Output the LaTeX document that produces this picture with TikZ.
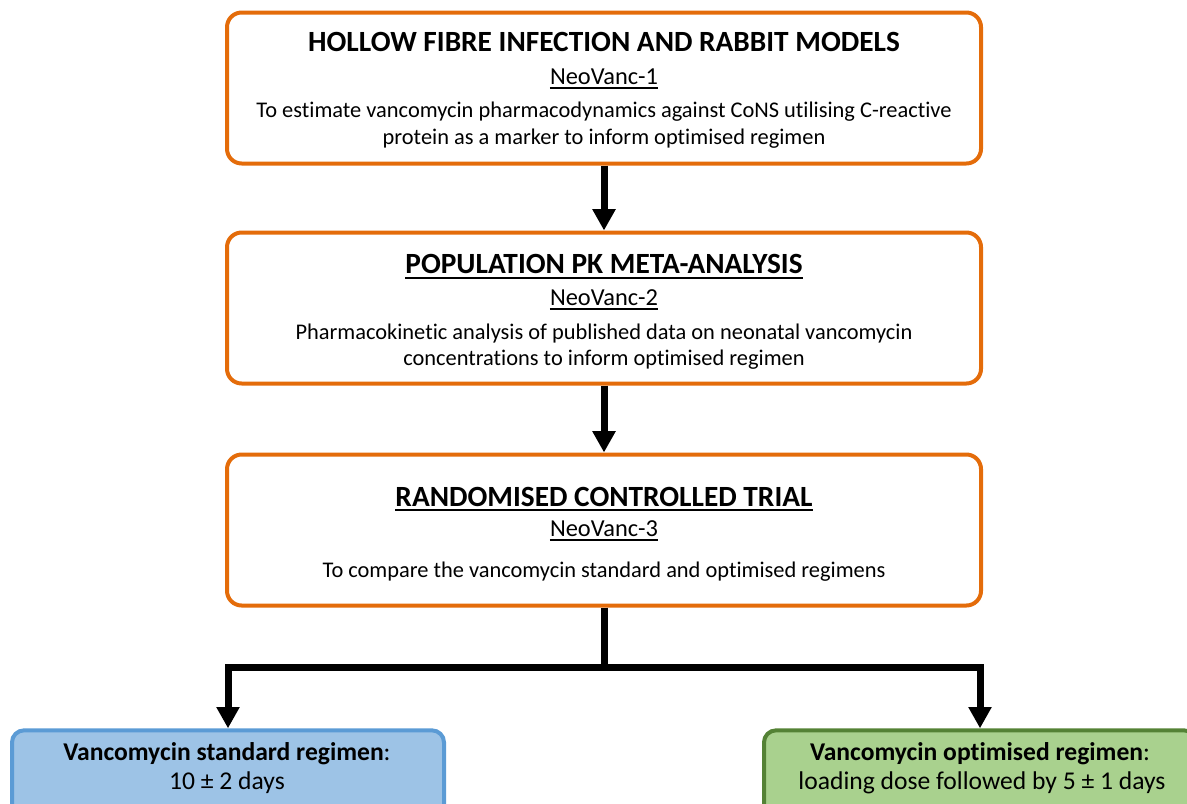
\documentclass[tikz,border=0pt]{standalone}
\usepackage{fontspec}
\setmainfont{Carlito}[Ligatures=NoCommon]
\usetikzlibrary{arrows.meta}
\definecolor{orng}{HTML}{E46C0A}
\definecolor{bluefill}{HTML}{9DC3E6}
\definecolor{blueline}{HTML}{5B9BD5}
\definecolor{greenfill}{HTML}{A9D18E}
\definecolor{greenline}{HTML}{548235}
\tikzset{
  stage/.style={draw=orng, line width=3pt, rounded corners=11pt, fill=white,
    minimum width=565.5pt, minimum height=113.25pt, inner sep=0pt},
  regbox/.style={line width=3pt, rounded corners=9pt,
    minimum width=324pt, minimum height=82pt, inner sep=0pt},
  ttl/.style={font=\fontsize{22}{26}\selectfont\bfseries, inner sep=0pt, anchor=base},
  code/.style={font=\fontsize{18.3}{22}\selectfont, inner sep=0pt, anchor=base},
  desc/.style={font=\fontsize{16.8}{20}\selectfont, inner sep=0pt, anchor=base},
  regtxt/.style={font=\fontsize{19.2}{22}\selectfont, inner sep=0pt, anchor=base},
  arr/.style={line width=5.25pt, -{Triangle[length=16pt,width=16.5pt]}},
  uline/.style={line width=1.5pt},
  ulinethin/.style={line width=1.1pt}
}
\begin{document}
\begin{tikzpicture}[x=0.75pt,y=-0.75pt]
\useasboundingbox (0,0) rectangle (1187,803);
\clip (0,0) rectangle (1187,803);

% stage boxes
\node[stage] (b1) at (604,88) {};
\node[stage] (b2) at (604,308) {};
\node[stage] (b3) at (604,530) {};

% regimen boxes
\node[regbox, draw=blueline, fill=bluefill] (bl) at (228,785) {};
\node[regbox, draw=greenline, fill=greenfill] (br) at (980,785) {};

% box 1 texts
\node[ttl] (t1) at (604,51.5) {HOLLOW FIBRE INFECTION AND RABBIT MODELS};
\node[code] (c1) at (604,84) {NeoVanc-1};
\draw[ulinethin] ([yshift=-3pt]c1.base west) -- ([yshift=-3pt]c1.base east);
\node[desc] (d1a) at (604,117) {To estimate vancomycin pharmacodynamics against CoNS utilising C-reactive};
\node[desc] (d1b) at (604,144) {protein as a marker to inform optimised regimen};

% box 2 texts
\node[ttl] (t2) at (604,273.5) {POPULATION PK META-ANALYSIS};
\draw[uline] ([yshift=-3.2pt]t2.base west) -- ([yshift=-3.2pt]t2.base east);
\node[code] (c2) at (604,305) {NeoVanc-2};
\draw[ulinethin] ([yshift=-3pt]c2.base west) -- ([yshift=-3pt]c2.base east);
\node[desc] (d2a) at (604,339) {Pharmacokinetic analysis of published data on neonatal vancomycin};
\node[desc] (d2b) at (604,365) {concentrations to inform optimised regimen};

% box 3 texts
\node[ttl] (t3) at (604,506) {RANDOMISED CONTROLLED TRIAL};
\draw[uline] ([yshift=-3.2pt]t3.base west) -- ([yshift=-3.2pt]t3.base east);
\node[code] (c3) at (604,536) {NeoVanc-3};
\draw[ulinethin] ([yshift=-3pt]c3.base west) -- ([yshift=-3pt]c3.base east);
\node[desc] (d3) at (604,577) {To compare the vancomycin standard and optimised regimens};

% regimen texts
\node[regtxt] (rla) at (227,760) {\textbf{Vancomycin standard regimen}:};
\node[regtxt] (rlb) at (227,789) {10 ± 2 days};
\node[regtxt] (rra) at (980,760) {\textbf{Vancomycin optimised regimen}:};
\node[regtxt] (rrb) at (982,789) {loading dose followed by 5 ± 1 days};

% connectors
\draw[arr] (b1) -- (b2);
\draw[arr] (b2) -- (b3);
\coordinate (j) at (604,667);
\draw[line width=5.25pt] (b3) -- (j);
\draw[arr] (j) -| (bl);
\draw[arr] (j) -| (br);
\end{tikzpicture}
\end{document}
